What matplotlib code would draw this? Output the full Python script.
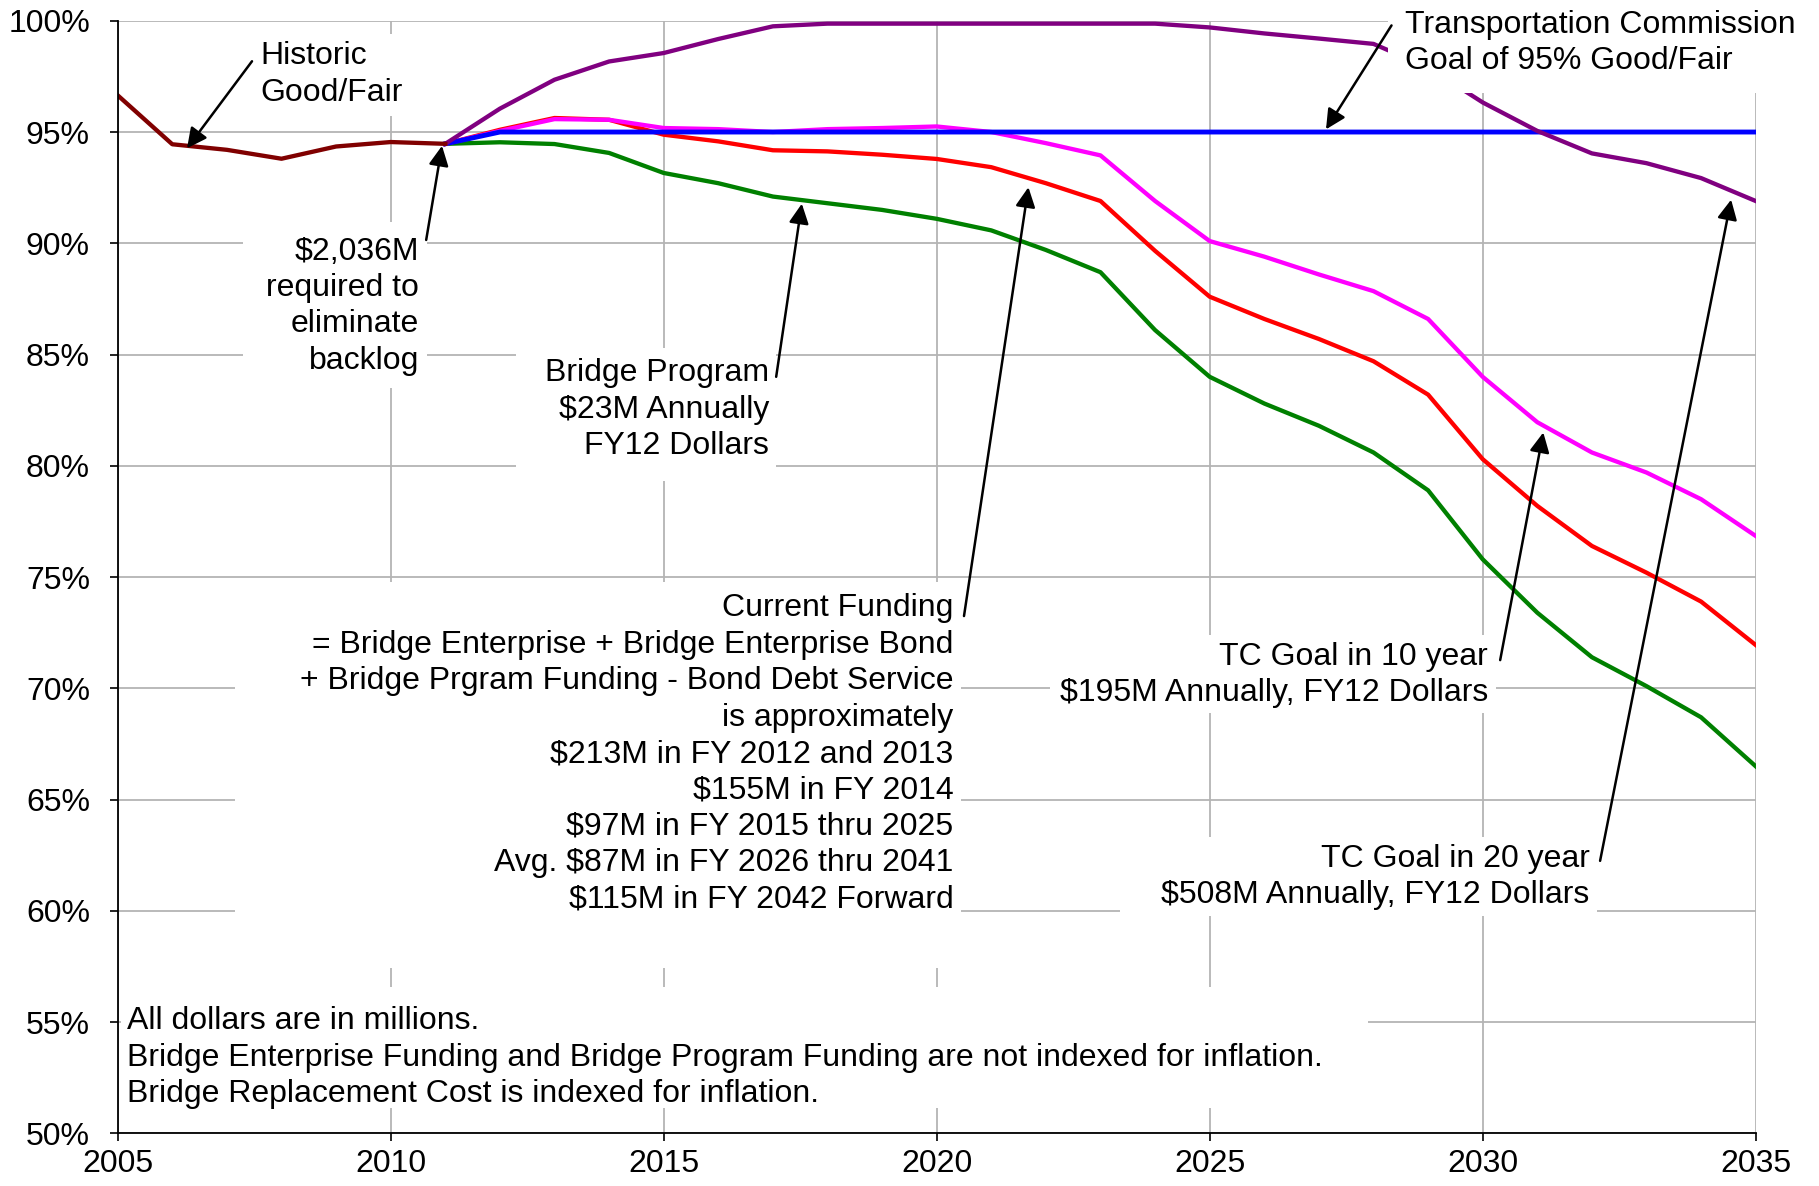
import matplotlib
matplotlib.use('Agg')
import matplotlib.pyplot as plt
import matplotlib.ticker as ticker
from matplotlib.patches import Rectangle

plt.rcParams['font.family'] = ['Liberation Sans', 'DejaVu Sans']

# =========================================================
#   Data (percent of bridges in good/fair condition)
# =========================================================

hist_years = [2005, 2006, 2007, 2008, 2009, 2010, 2011]
historic = [96.65, 94.45, 94.2, 93.8, 94.35, 94.55, 94.47]

proj_years = list(range(2011, 2036))
goal_95 = [94.47] + [95.0] * 24
eliminate_backlog = [94.47, 96.05, 97.35, 98.17, 98.55, 99.18, 99.75, 99.87,
                     99.87, 99.87, 99.87, 99.87, 99.87, 99.87, 99.7, 99.43,
                     99.2, 98.96, 97.9, 96.33, 95.05, 94.04, 93.6, 92.93, 91.9]
tc_goal_10 = [94.47, 95.05, 95.58, 95.55, 95.18, 95.13, 95.0, 95.13, 95.18,
              95.25, 95.0, 94.5, 93.95, 91.9, 90.1, 89.4, 88.6, 87.85, 86.6,
              84.0, 81.96, 80.6, 79.7, 78.5, 76.85]
current_funding = [94.47, 95.1, 95.63, 95.55, 94.88, 94.58, 94.18, 94.13,
                   93.98, 93.79, 93.42, 92.7, 91.9, 89.66, 87.6, 86.6, 85.7,
                   84.7, 83.2, 80.3, 78.2, 76.4, 75.2, 73.9, 71.95]
bridge_program = [94.47, 94.54, 94.46, 94.06, 93.16, 92.7, 92.1, 91.8, 91.5,
                  91.1, 90.58, 89.7, 88.7, 86.1, 84.0, 82.8, 81.8, 80.6, 78.9,
                  75.8, 73.4, 71.4, 70.1, 68.7, 66.5]

x_ticks = [2005, 2010, 2015, 2020, 2025, 2030, 2035]
y_ticks = [50, 55, 60, 65, 70, 75, 80, 85, 90, 95, 100]

# =========================================================
#   Plot
# =========================================================

fig = plt.figure(figsize=(18.19, 11.86), dpi=100)
ax = fig.add_axes([0.0647, 0.0443, 0.9652 - 0.0647, 0.9825 - 0.0443])

ax.plot(proj_years, bridge_program, color='#008000', lw=3.1, zorder=2)
ax.plot(proj_years, current_funding, color='#FF0000', lw=3.1, zorder=2.1)
ax.plot(proj_years, tc_goal_10, color='#FF00FF', lw=3.1, zorder=2.2)
ax.plot(proj_years, goal_95, color='#0000FF', lw=3.5, zorder=2.3)
ax.plot(proj_years, eliminate_backlog, color='#800080', lw=3.1, zorder=2.4)
ax.plot(hist_years, historic, color='#800000', lw=3.1, zorder=2.5)

ax.set_xlim(2005, 2035)
ax.set_ylim(50, 100)
ax.set_xticks(x_ticks)
ax.set_yticks(y_ticks)
ax.yaxis.set_major_formatter(ticker.FuncFormatter(lambda v, p: '%d%%' % v))
ax.tick_params(axis='both', direction='out', length=6, width=1.2,
               labelsize=23)
ax.tick_params(axis='y', pad=14)
ax.tick_params(axis='x', pad=5)

ax.grid(True, color='#b4b4b4', lw=1.3)
ax.set_axisbelow(True)
for side in ['top', 'right']:
    ax.spines[side].set_visible(False)
for side in ['left', 'bottom']:
    ax.spines[side].set_linewidth(1.3)

# white text-box backgrounds (x0, x1, y0, y1) that hide the gridlines
boxes = [
    (2007.45, 2010.5, 95.7, 99.4),
    (2007.3, 2010.66, 83.5, 90.97),
    (2012.3, 2017.05, 79.3, 85.3),
    (2007.15, 2020.45, 57.45, 74.8),
    (2022.07, 2030.24, 68.9, 72.4),
    (2023.35, 2032.1, 59.75, 63.3),
    (2005.06, 2027.9, 51.15, 56.6),
]
for x0, x1, y0, y1 in boxes:
    ax.add_patch(Rectangle((x0, y0), x1 - x0, y1 - y0, facecolor='white',
                           edgecolor='none', zorder=1))
# goal box sits above the purple line and spills past the axes
ax.add_patch(Rectangle((2028.27, 96.77), 7.6, 4.0, facecolor='white',
                       edgecolor='none', zorder=3, clip_on=False))

fs = 23
ls = 1.28

ax.text(2007.61, 97.58, 'Historic\nGood/Fair', ha='left', va='center',
        fontsize=fs, linespacing=ls, zorder=3.5)
ax.text(2010.52, 87.17, '$2,036M\nrequired to\neliminate\nbacklog',
        ha='right', va='center', multialignment='right', fontsize=fs,
        linespacing=ls, zorder=3.5)
ax.text(2016.93, 82.53, 'Bridge Program\n$23M Annually\nFY12 Dollars',
        ha='right', va='center', multialignment='right', fontsize=fs,
        linespacing=ls, zorder=3.5)
ax.text(2020.31, 67.05,
        'Current Funding\n'
        '= Bridge Enterprise + Bridge Enterprise Bond\n'
        '+ Bridge Prgram Funding - Bond Debt Service\n'
        'is approximately\n'
        '$213M in FY 2012 and 2013\n'
        '$155M in FY 2014\n'
        '$97M in FY 2015 thru 2025\n'
        'Avg. $87M in FY 2026 thru 2041\n'
        '$115M in FY 2042 Forward',
        ha='right', va='center', multialignment='right', fontsize=fs,
        linespacing=ls, zorder=3.5)
ax.text(2030.1, 70.6, 'TC Goal in 10 year\n$195M Annually, FY12 Dollars',
        ha='right', va='center', multialignment='right', fontsize=fs,
        linespacing=ls, zorder=3.5)
ax.text(2031.96, 61.52, 'TC Goal in 20 year\n$508M Annually, FY12 Dollars',
        ha='right', va='center', multialignment='right', fontsize=fs,
        linespacing=ls, zorder=3.5)
ax.text(2028.57, 99.0, 'Transportation Commission\nGoal of 95% Good/Fair',
        ha='left', va='center', fontsize=fs, linespacing=ls, zorder=3.5,
        clip_on=False)
ax.text(2005.17, 53.4,
        'All dollars are in millions.\n'
        'Bridge Enterprise Funding and Bridge Program Funding are not indexed for inflation.\n'
        'Bridge Replacement Cost is indexed for inflation.',
        ha='left', va='center', fontsize=fs, linespacing=ls, zorder=3.5)

# arrows: (head, tail) in data coordinates
arrows = [
    ((2006.27, 94.27), (2007.46, 98.18)),
    ((2010.94, 94.38), (2010.65, 90.15)),
    ((2017.53, 91.78), (2017.06, 84.0)),
    ((2021.68, 92.52), (2020.5, 73.25)),
    ((2031.11, 81.5), (2030.32, 71.27)),
    ((2034.55, 91.96), (2032.15, 62.25)),
    ((2027.13, 95.12), (2028.33, 99.79)),
]
for head, tail in arrows:
    ax.annotate('', xy=head, xytext=tail, zorder=4,
                arrowprops=dict(arrowstyle='-|>', color='black', lw=1.8,
                                mutation_scale=30, shrinkA=0, shrinkB=0))

fig.savefig('out.png', dpi=100)
